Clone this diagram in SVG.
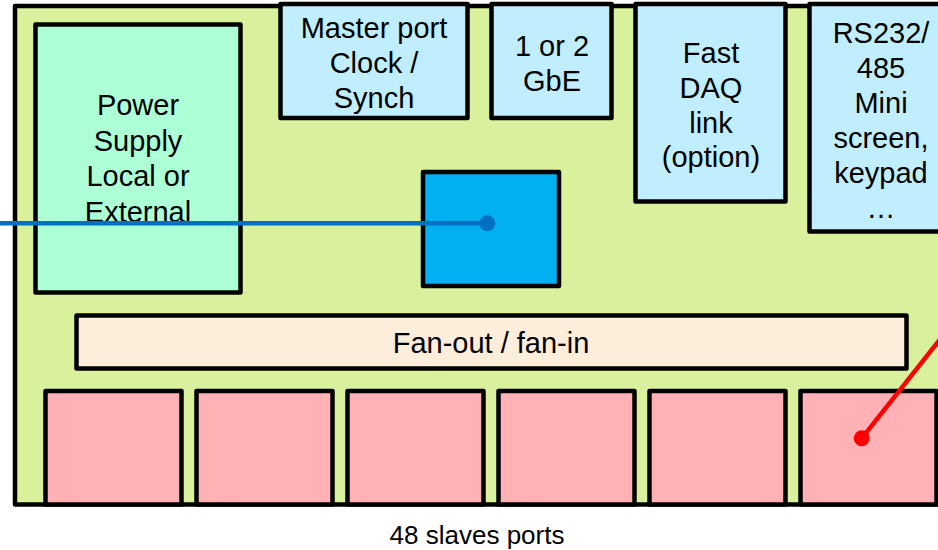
<svg xmlns="http://www.w3.org/2000/svg" width="938" height="550" viewBox="0 0 938 550">
<style>
.box{stroke:#000;stroke-width:4.5;stroke-linejoin:round}
.t{font-family:"Liberation Sans",Arial,sans-serif;font-size:29px;fill:#000;text-anchor:middle}
.board{fill:#D9F09C}
.psu{fill:#ADFFD5}
.lb{fill:#C1EEFF}
.fan{fill:#FDEEDC}
.pk{fill:#FFB1B6}
.cpu{fill:#00B0F0}
</style>
<rect width="938" height="550" fill="#fff"/>
<g id="board"><rect class="box board" x="15" y="6" width="940" height="498.5"/></g>
<g id="power-supply">
<rect class="box psu" x="35.5" y="24.5" width="205" height="268"/>
<text class="t" x="138" y="115">Power</text>
<text class="t" x="138" y="150.5">Supply</text>
<text class="t" x="138" y="186">Local or</text>
<text class="t" x="138" y="221.5">External</text>
</g>
<g id="master-port">
<rect class="box lb" x="280.5" y="4" width="187" height="114"/>
<text class="t" x="374" y="38">Master port</text>
<text class="t" x="374" y="73">Clock /</text>
<text class="t" x="374" y="108">Synch</text>
</g>
<g id="gbe">
<rect class="box lb" x="491.5" y="4" width="120" height="114"/>
<text class="t" x="552" y="56">1 or 2</text>
<text class="t" x="552" y="91">GbE</text>
</g>
<g id="fast-daq">
<rect class="box lb" x="635.5" y="4" width="150" height="197.5"/>
<text class="t" x="711" y="63">Fast</text>
<text class="t" x="711" y="98">DAQ</text>
<text class="t" x="711" y="133">link</text>
<text class="t" x="711" y="167">(option)</text>
</g>
<g id="rs232">
<rect class="box lb" x="809.5" y="4" width="150" height="227.5"/>
<text class="t" x="881" y="43">RS232/</text>
<text class="t" x="881" y="78">485</text>
<text class="t" x="881" y="113">Mini</text>
<text class="t" x="881" y="148">screen,</text>
<text class="t" x="881" y="183">keypad</text>
<text class="t" x="881" y="218">…</text>
</g>
<g id="processor"><rect class="box cpu" x="423" y="172" width="136" height="114"/></g>
<g id="fanout">
<rect class="box fan" x="76.5" y="315.5" width="830" height="53"/>
<text class="t" x="491" y="353">Fan-out / fan-in</text>
</g>
<g id="slave-ports">
<rect class="box pk" x="45.5" y="391" width="136" height="113.5"/>
<rect class="box pk" x="196.5" y="391" width="136" height="113.5"/>
<rect class="box pk" x="347.5" y="391" width="136" height="113.5"/>
<rect class="box pk" x="498.5" y="391" width="136" height="113.5"/>
<rect class="box pk" x="649.5" y="391" width="136" height="113.5"/>
<rect class="box pk" x="800.5" y="391" width="136" height="113.5"/>
</g>
<g id="label">
<text x="477" y="544" font-family="Liberation Sans, Arial, sans-serif" font-size="25" text-anchor="middle" textLength="175" lengthAdjust="spacingAndGlyphs">48 slaves ports</text>
</g>
<g id="connectors">
<line x1="0" y1="223.3" x2="487.3" y2="223.3" stroke="#0070C0" stroke-width="4.5"/>
<circle cx="487.3" cy="223.3" r="8" fill="#0070C0"/>
<line x1="861.7" y1="438.3" x2="945" y2="333" stroke="#FF0000" stroke-width="4.5"/>
<circle cx="861.7" cy="438.3" r="8" fill="#FF0000"/>
</g>
</svg>
